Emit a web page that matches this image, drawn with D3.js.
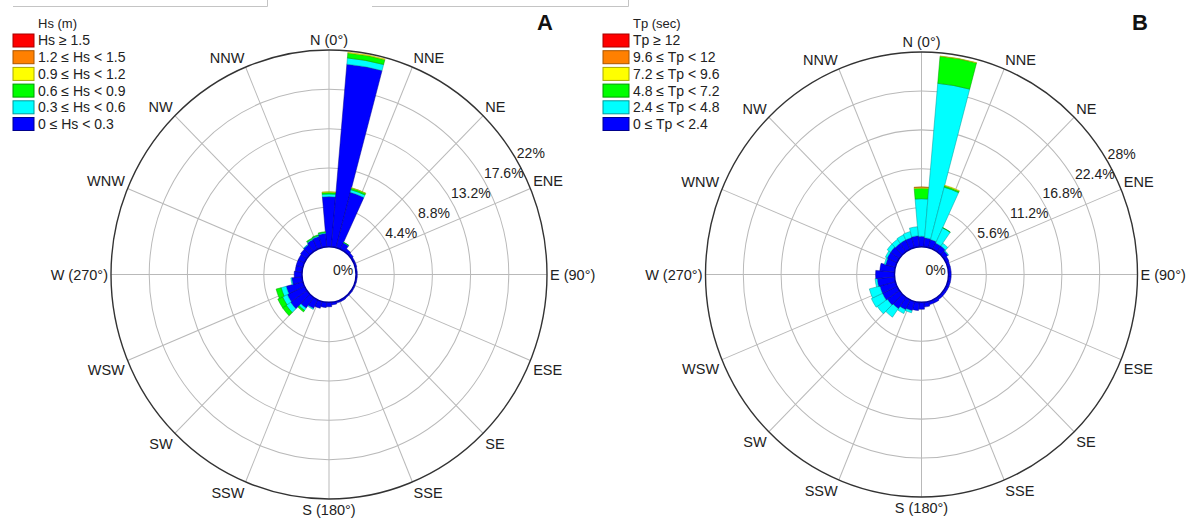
<!DOCTYPE html>
<html>
<head>
<meta charset="utf-8">
<script src="https://cdn.jsdelivr.net/npm/d3@7"></script>
<style>
  body { margin: 0; background: #fff; }
  svg text { font-family: "Liberation Sans", Arial, sans-serif; fill: #222; }
</style>
</head>
<body>
<svg id="chart" width="1201" height="519"></svg>
<script>
// bin centres (deg from north, clockwise)
var dirAngles = [0,10,20,30,40,50,60,70,80,90,100,110,120,130,140,150,160,170,
                 180,190,200,210,220,230,240,250,260,270,280,290,300,310,320,330,340,350];
var dirLabels = ["N (0°)","NNE","NE","ENE","E (90°)","ESE","SE","SSE",
                 "S (180°)","SSW","SW","WSW","W (270°)","WNW","NW","NNW"];
var classColors = ["#0000ff","#00ffff","#00ff00","#ffff00","#ff8000","#ff0000"];
var classEdges  = ["#00008b","#009a9a","#009a00","#a8a800","#a85400","#a80000"];

// panel A : Hs (%)
var hsClasses = ["0 ≤ Hs < 0.3","0.3 ≤ Hs < 0.6","0.6 ≤ Hs < 0.9","0.9 ≤ Hs < 1.2","1.2 ≤ Hs < 1.5","Hs ≥ 1.5"];
var hsTicks = [4.4, 8.8, 13.2, 17.6, 22];
var hsBlue   = [5.6,20.5,6.4,0.8,0.4,0.3,0.2,0.2,0.15,0.15,0.15,0.15,0.15,0.15,0.15,0.2,0.2,0.3,
                0.5,0.6,0.8,1.1,1.5,2.3,2.2,2.0,1.2,0.9,0.8,0.8,0.8,0.9,1.0,1.2,1.3,1.5];
var hsCyan   = [0.3,0.7,0.3,0.05,0,0,0,0,0,0,0,0,0,0,0,0,0,0,
                0,0,0,0.1,0.3,0.6,0.6,0.6,0.1,0,0,0,0,0,0.05,0.1,0.1,0.1];
var hsGreen  = [0.2,0.55,0.2,0.02,0,0,0,0,0,0,0,0,0,0,0,0,0,0,
                0,0,0,0,0.2,0.5,0.6,0.6,0,0,0,0,0,0,0,0.1,0.1,0.1];
var hsYellow = [0.05,0.1,0.03,0,0,0,0,0,0,0,0,0,0,0,0,0,0,0,
                0,0,0,0,0,0,0,0,0,0,0,0,0,0,0,0,0,0];
var hsOrange = [0,0,0,0,0,0,0,0,0,0,0,0,0,0,0,0,0,0,0,0,0,0,0,0,0,0,0,0,0,0,0,0,0,0,0,0];
var hsRed    = [0,0,0,0,0,0,0,0,0,0,0,0,0,0,0,0,0,0,0,0,0,0,0,0,0,0,0,0,0,0,0,0,0,0,0,0];

// panel B : Tp (%)
var tpClasses = ["0 ≤ Tp < 2.4","2.4 ≤ Tp < 4.8","4.8 ≤ Tp < 7.2","7.2 ≤ Tp < 9.6","9.6 ≤ Tp < 12","Tp ≥ 12"];
var tpTicks = [5.6, 11.2, 16.8, 22.4, 28];
var tpBlue   = [1.5,1.3,1.2,1.0,1.0,0.8,0.5,0.4,0.4,0.4,0.4,0.4,0.4,0.4,0.4,0.5,0.5,0.7,
                1.0,1.2,1.4,1.6,2.0,2.2,2.4,2.4,2.6,2.8,2.2,1.5,1.6,1.6,1.5,1.5,1.5,1.6];
var tpCyan   = [5.4,22.3,7.8,2.4,0.5,0.1,0,0,0,0,0,0,0,0,0,0,0,0,
                0,0,0.3,0.6,1.5,1.8,1.8,1.6,0.3,0,0,0.2,0.3,0.6,0.7,0.8,0.9,1.3];
var tpGreen  = [1.5,3.9,0.2,0.05,0,0,0,0,0,0,0,0,0,0,0,0,0,0,
                0,0,0,0,0,0,0,0,0,0,0,0,0,0,0,0,0,0];
var tpYellow = [0.15,0.05,0.1,0,0,0,0,0,0,0,0,0,0,0,0,0,0,0,
                0,0,0,0,0,0,0,0,0,0,0,0,0,0,0,0,0,0];
var tpOrange = [0.05,0,0,0,0,0,0,0,0,0,0,0,0,0,0,0,0,0,0,0,0,0,0,0,0,0,0,0,0,0,0,0,0,0,0,0];
var tpRed    = [0,0,0,0,0,0,0,0,0,0,0,0,0,0,0,0,0,0,0,0,0,0,0,0,0,0,0,0,0,0,0,0,0,0,0,0];

var svg = d3.select("#chart");
var sy = 1.03;   // picture is a bit taller than wide
var rad = Math.PI / 180;

// leftover frame lines along the top edge
svg.append("path").attr("d", "M13,6.5H267.5V0M372,6.5H628.5V0")
  .attr("fill", "none").attr("stroke", "#c4c4c4").attr("stroke-width", 1);

const drawRose = (cfg) => {
  var g = svg.append("g");
  var rScale = d3.scaleLinear().domain([0, cfg.ticks[cfg.ticks.length - 1]]).range([cfg.r0, cfg.R]);
  var pt = (a, r) => [cfg.cx + r * Math.sin(a * rad), cfg.cy - r * Math.cos(a * rad) * sy];
  var geo = g.append("g").attr("transform", `translate(${cfg.cx},${cfg.cy}) scale(1,${sy})`);

  // grid
  geo.selectAll("line.spoke").data(d3.range(16)).join("line")
    .attr("x1", i => cfg.r0 * Math.sin(i * 22.5 * rad)).attr("y1", i => -cfg.r0 * Math.cos(i * 22.5 * rad))
    .attr("x2", i => cfg.R * Math.sin(i * 22.5 * rad)).attr("y2", i => -cfg.R * Math.cos(i * 22.5 * rad))
    .attr("stroke", "#b9b9b9").attr("stroke-width", 1);
  geo.selectAll("circle.ring").data(cfg.ticks.slice(0, -1)).join("circle")
    .attr("r", d => rScale(d)).attr("fill", "none").attr("stroke", "#b9b9b9").attr("stroke-width", 1);

  // stacked bars
  var stacked = [];
  cfg.angles.forEach((a, i) => {
    var c = 0;
    cfg.series.forEach((s, k) => {
      if (s[i] > 0) stacked.push({a: a, k: k, lo: c, hi: c + s[i]});
      c += s[i];
    });
  });
  var arc = d3.arc();
  geo.selectAll("path.bar").data(stacked).join("path")
    .attr("d", d => arc({innerRadius: rScale(d.lo), outerRadius: rScale(d.hi),
                         startAngle: (d.a - 5) * rad, endAngle: (d.a + 5) * rad}))
    .attr("fill", d => classColors[d.k])
    .attr("stroke", d => classEdges[d.k]).attr("stroke-width", 0.5);

  // hole + outer circle
  geo.append("circle").attr("r", cfg.r0).attr("fill", "#fff").attr("stroke", "#0000a0").attr("stroke-width", 1.4);
  geo.append("circle").attr("r", cfg.R).attr("fill", "none").attr("stroke", "#333").attr("stroke-width", 1.4);

  // direction labels
  dirLabels.forEach((lab, i) => {
    var a = i * 22.5, p = pt(a, cfg.R + 3);
    var s = Math.sin(a * rad), c = Math.cos(a * rad);
    g.append("text").attr("x", p[0]).attr("y", p[1])
      .attr("text-anchor", s > 0.01 ? "start" : (s < -0.01 ? "end" : "middle"))
      .attr("dy", c > 0.01 ? "-0.1em" : (c < -0.01 ? "0.9em" : "0.36em"))
      .style("font-size", "14.5px").text(lab);
  });

  // radial tick labels
  cfg.ticks.forEach(t => {
    var p = pt(59.5, rScale(t));
    g.append("text").attr("x", p[0]).attr("y", p[1]).attr("dy", "-0.2em")
      .style("font-size", "14px").text(t + "%");
  });
  g.append("text").attr("x", cfg.cx + 4).attr("y", cfg.cy).style("font-size", "14px").text("0%");

  // legend
  var leg = svg.append("g");
  leg.append("text").attr("x", cfg.legX + cfg.swW + 4).attr("y", 23).attr("dy", "0.35em")
    .style("font-size", "13px").text(cfg.legTitle);
  var rows = cfg.classes.map((c, k) => ({label: c, k: k})).reverse();
  leg.selectAll("rect").data(rows).join("rect")
    .attr("x", cfg.legX).attr("y", (d, i) => 34 + i * 16.7).attr("width", cfg.swW).attr("height", 13)
    .attr("fill", d => classColors[d.k]).attr("stroke", d => classEdges[d.k]).attr("stroke-width", 1);
  leg.selectAll("text.row").data(rows).join("text").attr("class", "row")
    .attr("x", cfg.legX + cfg.swW + 4).attr("y", (d, i) => 40.5 + i * 16.7).attr("dy", "0.35em")
    .style("font-size", "14px").text(d => d.label);

  svg.append("text").attr("x", cfg.letterX).attr("y", 30).attr("text-anchor", "middle")
    .style("font-size", "22px").style("font-weight", "bold").style("fill", "#111").text(cfg.letter);
};

drawRose({cx: 329, cy: 274.5, R: 218, r0: 27, ticks: hsTicks, angles: dirAngles,
  series: [hsBlue, hsCyan, hsGreen, hsYellow, hsOrange, hsRed],
  classes: hsClasses, legTitle: "Hs (m)", legX: 13, swW: 21, letter: "A", letterX: 545});
drawRose({cx: 921.5, cy: 274.5, R: 216, r0: 27, ticks: tpTicks, angles: dirAngles,
  series: [tpBlue, tpCyan, tpGreen, tpYellow, tpOrange, tpRed],
  classes: tpClasses, legTitle: "Tp (sec)", legX: 603, swW: 26, letter: "B", letterX: 1140});
</script>
</body>
</html>
